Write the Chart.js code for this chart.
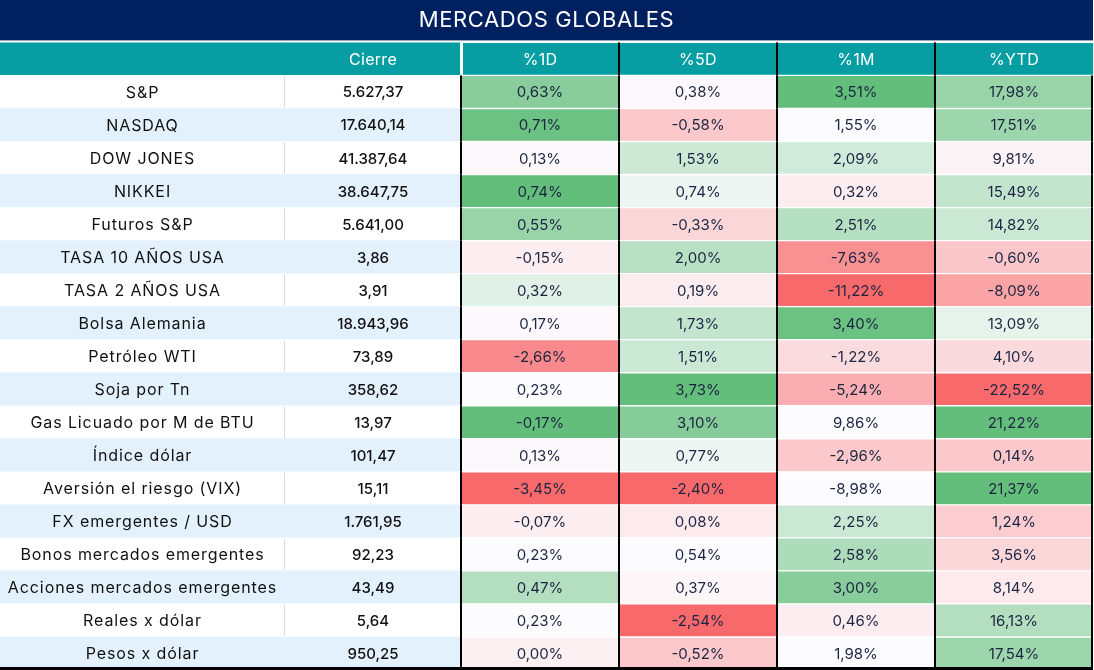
<!DOCTYPE html>
<html>
<head>
<meta charset="utf-8">
<script src="https://cdn.jsdelivr.net/npm/chart.js@4.4.1/dist/chart.umd.min.js"></script>
<style>
  html, body { margin: 0; padding: 0; background: #ffffff; }
  #wrap { width: 1094px; height: 670px; position: relative; }
</style>
</head>
<body>
<div id="wrap"><canvas id="c"></canvas></div>
<script>
// ---------- DATA ----------
const titleText = 'MERCADOS GLOBALES';
const headers = ['', 'Cierre', '%1D', '%5D', '%1M', '%YTD'];
const names = [
  'S&P', 'NASDAQ', 'DOW JONES', 'NIKKEI', 'Futuros S&P', 'TASA 10 AÑOS USA',
  'TASA 2 AÑOS USA', 'Bolsa Alemania', 'Petróleo WTI', 'Soja por Tn',
  'Gas Licuado por M de BTU', 'Índice dólar', 'Aversión el riesgo (VIX)',
  'FX emergentes / USD', 'Bonos mercados emergentes', 'Acciones mercados emergentes',
  'Reales x dólar', 'Pesos x dólar'
];
const cierre = [5627.37, 17640.14, 41387.64, 38647.75, 5641.00, 3.86, 3.91, 18943.96, 73.89,
  358.62, 13.97, 101.47, 15.11, 1761.95, 92.23, 43.49, 5.64, 950.25];
const pct1D = [0.63, 0.71, 0.13, 0.74, 0.55, -0.15, 0.32, 0.17, -2.66, 0.23, -0.17, 0.13, -3.45,
  -0.07, 0.23, 0.47, 0.23, 0.00];
const pct5D = [0.38, -0.58, 1.53, 0.74, -0.33, 2.00, 0.19, 1.73, 1.51, 3.73, 3.10, 0.77, -2.40,
  0.08, 0.54, 0.37, -2.54, -0.52];
const pct1M = [3.51, 1.55, 2.09, 0.32, 2.51, -7.63, -11.22, 3.40, -1.22, -5.24, 9.86, -2.96, -8.98,
  2.25, 2.58, 3.00, 0.46, 1.98];
const pctYTD = [17.98, 17.51, 9.81, 15.49, 14.82, -0.60, -8.09, 13.09, 4.10, -22.52, 21.22, 0.14,
  21.37, 1.24, 3.56, 8.14, 16.13, 17.54];
// colour-scale scores (-1 = red, 0 = white, 1 = green)
const heat1D = [0.76, 0.94, -0.03, 1.0, 0.65, -0.1, 0.18, -0.03, -0.78, 0.0, 1.0, -0.03, -1.0,
  -0.1, 0.0, 0.48, 0.0, -0.08];
const heat5D = [-0.03, -0.35, 0.31, 0.1, -0.26, 0.45, -0.1, 0.37, 0.32, 1.0, 0.78, 0.1, -1.0,
  -0.12, 0.0, -0.04, -1.0, -0.35];
const heat1M = [1.0, 0.0, 0.28, -0.1, 0.47, -0.73, -1.0, 0.94, -0.22, -0.53, 0.0, -0.35, 0.0,
  0.33, 0.52, 0.76, -0.1, 0.0];
const heatYTD = [0.65, 0.62, -0.06, 0.37, 0.32, -0.36, -0.6, 0.15, -0.23, -1.0, 1.0, -0.35, 1.0,
  -0.32, -0.25, -0.12, 0.48, 0.62];

// ---------- LAYOUT / STYLE ----------
const colWidths = [285, 176, 158, 158, 158, 158];
const NAVY = '#002060';
const TEAL = '#069da3';
const ROW_BLUE = '#e3f1fc';
const FONT = 'Inter, "Open Sans", sans-serif';

function fmtNum(v) {
  const parts = Math.abs(v).toFixed(2).split('.');
  const intPart = parts[0].replace(/\B(?=(\d{3})+(?!\d))/g, '.');
  return (v < 0 ? '-' : '') + intPart + ',' + parts[1];
}
function heatColor(h) {
  const w = [252, 252, 255];
  const g = [99, 190, 123];
  const r = [248, 105, 107];
  const t = Math.min(1, Math.abs(h));
  const target = h >= 0 ? g : r;
  const c = w.map((wv, k) => Math.round(wv + (target[k] - wv) * t));
  return `rgb(${c[0]},${c[1]},${c[2]})`;
}

const rowLabels = ['header'].concat(names);
const pctCols = [pct1D, pct5D, pct1M, pctYTD];
const heatCols = [heat1D, heat5D, heat1M, heatYTD];

function cellText(col, rowIdx) {
  if (rowIdx === 0) return headers[col];
  const i = rowIdx - 1;
  if (col === 0) return names[i];
  if (col === 1) return fmtNum(cierre[i]);
  return fmtNum(pctCols[col - 2][i]) + '%';
}
function cellColor(col, rowIdx) {
  if (rowIdx === 0) return TEAL;
  const i = rowIdx - 1;
  if (col <= 1) return (i % 2 === 0) ? '#ffffff' : ROW_BLUE;
  return heatColor(heatCols[col - 2][i]);
}

const datasets = colWidths.map((w, col) => ({
  label: headers[col] || 'Activo',
  data: rowLabels.map(() => w),
  backgroundColor: rowLabels.map((_, r) => cellColor(col, r)),
  borderColor: '#ffffff',
  borderWidth: col >= 2 ? { top: 1, bottom: 1, left: 0, right: 0 } : 0,
  borderSkipped: false,
  categoryPercentage: 1,
  barPercentage: 1
}));

const tablePlugin = {
  id: 'tablePlugin',
  beforeDraw(chart) {
    const ctx = chart.ctx;
    const tb = chart.titleBlock;
    ctx.save();
    ctx.fillStyle = NAVY;
    ctx.fillRect(0, tb.top, chart.width - 1, tb.height - 2);
    ctx.restore();
    ctx.letterSpacing = '0.6px';
  },
  afterDatasetsDraw(chart) {
    const ctx = chart.ctx;
    ctx.save();
    const metas = chart.data.datasets.map((d, i) => chart.getDatasetMeta(i));
    const n = rowLabels.length;
    for (let r = 0; r < n; r++) {
      const ref = metas[2].data[r];
      const top = ref.y - ref.height / 2;
      const bot = ref.y + ref.height / 2;
      for (let col = 2; col < metas.length; col++) {
        const el = metas[col].data[r];
        const x = Math.round(el.base);
        if (r === 0 && col === 2) {
          ctx.fillStyle = '#ffffff';
          ctx.fillRect(x - 1, top, 3, bot - top);
        } else {
          ctx.fillStyle = '#000000';
          ctx.fillRect(x - 1, top, 2, bot - top);
        }
      }
      if (r > 0) {
        const last = metas[metas.length - 1].data[r];
        ctx.fillStyle = '#000000';
        ctx.fillRect(Math.round(last.x) - 2, top, 2, bot - top);
        if ((r - 1) % 2 === 0) {
          const el1 = metas[1].data[r];
          ctx.fillStyle = '#d9d9d9';
          ctx.fillRect(Math.round(el1.base) - 1, top + 1, 1, bot - top - 2);
        }
      }
    }
    const lastRow = metas[0].data[n - 1];
    const yb = lastRow.y + lastRow.height / 2;
    const xr = metas[metas.length - 1].data[n - 1].x;
    ctx.fillStyle = '#000000';
    ctx.fillRect(0, Math.round(yb) - 3, xr, 3);

    ctx.textAlign = 'center';
    ctx.textBaseline = 'middle';
    metas.forEach((meta, col) => {
      meta.data.forEach((el, r) => {
        const cx = (el.x + el.base) / 2;
        const txt = cellText(col, r);
        if (!txt) return;
        if (r === 0) {
          ctx.fillStyle = '#ffffff';
          ctx.font = '16px ' + FONT;
          ctx.letterSpacing = '0.3px';
        } else if (col === 0) {
          ctx.fillStyle = '#111111';
          ctx.font = '16px ' + FONT;
          ctx.letterSpacing = '0.9px';
        } else if (col === 1) {
          ctx.fillStyle = '#111111';
          ctx.font = '500 15px ' + FONT;
          ctx.letterSpacing = '0px';
        } else {
          ctx.fillStyle = '#1c2540';
          ctx.font = '15px ' + FONT;
          ctx.letterSpacing = '0px';
        }
        ctx.fillText(txt, cx, el.y + 1);
      });
    });
    ctx.restore();
  }
};

new Chart(document.getElementById('c'), {
  type: 'bar',
  data: { labels: rowLabels, datasets },
  options: {
    indexAxis: 'y',
    responsive: true,
    maintainAspectRatio: false,
    animation: false,
    events: [],
    layout: { padding: { left: 0, right: 1, top: 0, bottom: 0 } },
    scales: {
      x: { stacked: true, display: false, min: 0, max: colWidths.reduce((a, b) => a + b, 0) },
      y: { stacked: true, display: false }
    },
    plugins: {
      legend: { display: false },
      tooltip: { enabled: false },
      title: {
        display: true,
        text: titleText,
        color: '#ffffff',
        font: { family: FONT, size: 22, weight: 'normal', lineHeight: 1.2 },
        padding: { top: 7, bottom: 9 }
      }
    }
  },
  plugins: [tablePlugin]
});
</script>
</body>
</html>
